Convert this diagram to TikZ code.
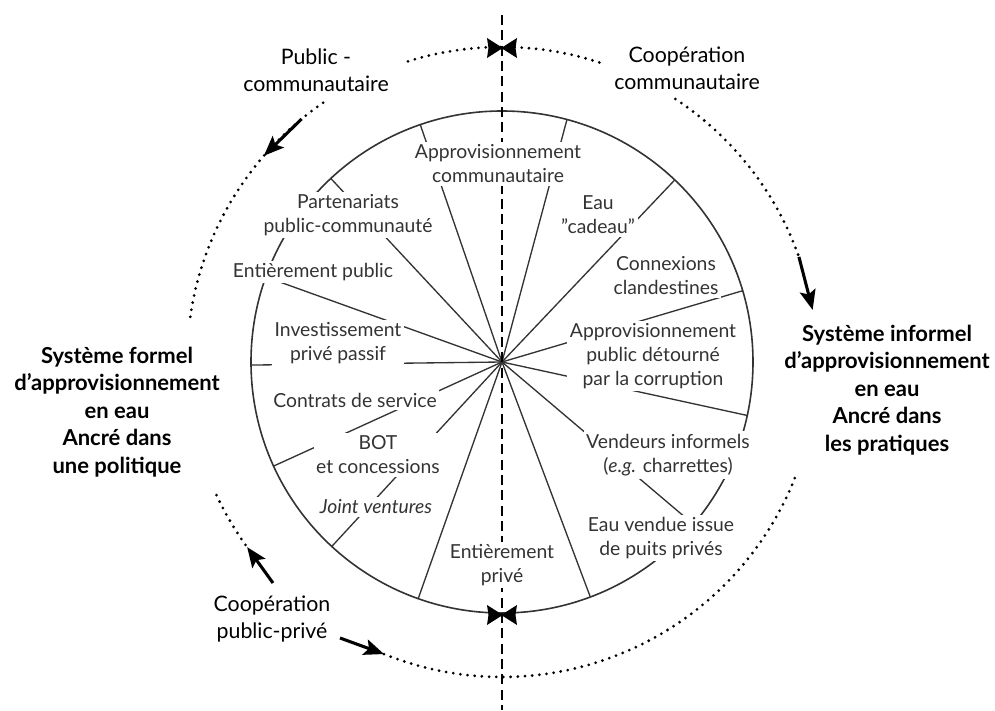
\documentclass[tikz,border=0pt]{standalone}
\usepackage{fontspec}
\setmainfont{Lato}
\usetikzlibrary{arrows.meta,positioning}

\definecolor{inkgray}{gray}{0.2}
\definecolor{textgray}{gray}{0.2}

\begin{document}
\begin{tikzpicture}[
            x=0.75pt, y=0.75pt,
            rim/.style={draw=inkgray, line width=1.2pt},
            spoke/.style={draw=inkgray, line width=1pt},
            axis line/.style={draw=black, line width=2.2pt, dash pattern=on 7.5pt off 4pt},
            dotted rim/.style={draw=black, line width=2.3pt, line cap=round, dash pattern=on 0pt off 5.4pt},
            flow arrow/.style={draw=black, line width=2.3pt, -{Stealth[length=15pt,width=12pt,inset=3pt]}},
            sector/.style={fill=white, inner sep=2pt, align=center, text=textgray, font=\fontsize{14.5}{18}\selectfont},
            mode label/.style={align=center, text=black, font=\fontsize{16}{20}\selectfont},
            system label/.style={align=center, text=black, font=\fontsize{16.5}{20.6}\selectfont\bfseries},
        ]
            \useasboundingbox (-502,-348) rectangle (493,362);
            \coordinate (c) at (0,0);

            % dotted outer ring, in pieces
            \draw[dotted rim] (72:315) arc[start angle=72, end angle=108, radius=315];
            \draw[dotted rim] (124.6:315) arc[start angle=124.6, end angle=172, radius=315];
            \draw[dotted rim] (56.6:315) arc[start angle=56.6, end angle=19.5, radius=315];
            \draw[dotted rim] (248:315) arc[start angle=248, end angle=338.6, radius=315];
            \draw[dotted rim] (205:315) arc[start angle=205, end angle=216, radius=315];

            \coordinate (pubcom tail) at (129.5:315);
            \coordinate (pubcom tip) at (139.1:315);
            \coordinate (coopcom tail) at (19.5:315);
            \coordinate (coopcom tip) at (9.5:315);
            \coordinate (cooppp up tail) at (-229,-221);
            \coordinate (cooppp up tip) at (216:315);
            \coordinate (cooppp right tail) at (-162,-276);
            \coordinate (cooppp right tip) at (248:315);

            \draw[flow arrow] (pubcom tail) -- (pubcom tip);
            \draw[flow arrow] (coopcom tail) -- (coopcom tip);
            \draw[flow arrow] (cooppp up tail) -- (cooppp up tip);
            \draw[flow arrow] (cooppp right tail) -- (cooppp right tip);

            % wheel
            \draw[rim] (c) circle[radius=251];
            \foreach \a in {109,75,46.5,16.5,-12.3,-40.3,-69.4,250.5,227.3,204.5,180.7,160.2,133}
                \draw[spoke] (c) -- (\a:251);

            \coordinate (axis top) at (0,347);
            \coordinate (axis bottom) at (0,-348);
            \draw[axis line] (axis top) -- (axis bottom);

            \foreach \yy in {314,-253}
                \fill[shift={(0,\yy)}] (-15,10) -- (0,0.5) -- (0,-0.5) -- (-15,-10) -- (-13.5,0) -- cycle
                    (15,10) -- (0,0.5) -- (0,-0.5) -- (15,-10) -- (13.5,0) -- cycle;

            % sectors
            \node[sector] (appcom) at (-4,198) {Approvisionnement\\communautaire};
            \node[sector] (gift) at (96,147) {Eau\\”cadeau”};
            \node[sector] (clandestine) at (164,86) {Connexions\\clandestines};
            \node[sector] (corruption) at (151,6) {Approvisionnement\\public détourné\\par la corruption};
            \node[sector] (vendors) at (166,-93) {Vendeurs informels\\(\textit{e.g.} charrettes)};
            \node[sector] (wells) at (159,-176) {Eau vendue issue\\de puits privés};
            \node[sector] (private) at (0,-203) {Entièrement\\privé};
            \node[sector] (jv) at (-126,-145) {\textit{Joint ventures}};
            \node[sector] (bot) at (-124,-93) {BOT\\et concessions};
            \node[sector] (service) at (-147,-38) {Contrats de service};
            \node[sector] (passive) at (-164,19) {Investissement\\privé passif};
            \node[sector] (public) at (-189,90) {Entièrement public};
            \node[sector] (ppcom) at (-154,147) {Partenariats\\public-communauté};

            % outside
            \node[mode label] (pubcom) at (-186,292) {Public -\\communautaire};
            \node[mode label] (coopcom) at (185,294) {Coopération\\communautaire};
            \node[mode label] (cooppp) at (-230,-257) {Coopération\\public-privé};
            \node[system label] (formal) at (-385,-50) {Système formel\\d’approvisionnement\\en eau\\Ancré dans\\une politique};
            \node[system label] (informal) at (385,-28) {Système informel\\d’approvisionnement\\en eau\\Ancré dans\\les pratiques};
        \end{tikzpicture}
\end{document}
